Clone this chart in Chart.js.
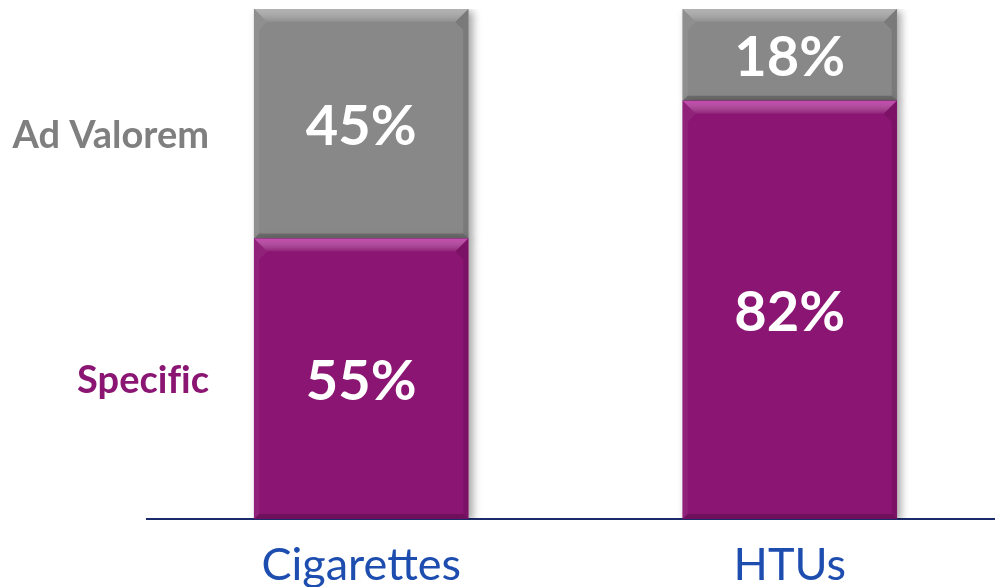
<!DOCTYPE html>
<html>
<head>
<meta charset="utf-8">
<script src="https://cdn.jsdelivr.net/npm/chart.js@4.4.0/dist/chart.umd.min.js"></script>
<style>
  html, body { margin: 0; padding: 0; background: #fff; overflow: hidden; }
  #wrap { width: 1004px; height: 587px; }
</style>
</head>
<body>
<div id="wrap"><canvas id="chart"></canvas></div>
<script>
const categories = ["Cigarettes", "HTUs"];
const seriesNames = ["Specif\u200Cic", "Ad Valorem"];
const specificValues = [55, 82];
const adValoremValues = [45, 18];

const purple = "#8a1572";
const grey = "#888888";

// bevel look on each bar segment
const bevelPlugin = {
    id: "bevel",
    beforeDatasetsDraw(chart) {
        const ctx = chart.ctx;
        ctx.save();
        ctx.shadowColor = "rgba(0,0,0,0.35)";
        ctx.shadowBlur = 8;
        ctx.shadowOffsetX = 4;
        ctx.shadowOffsetY = 2;
    },
    afterDatasetsDraw(chart) {
        const ctx = chart.ctx;
        ctx.restore();
        const lights = ["rgba(235,110,215,0.6)", "rgba(205,205,205,0.6)"];
        chart.data.datasets.forEach((ds, di) => {
            chart.getDatasetMeta(di).data.forEach(bar => {
                const l = bar.x - bar.width / 2, r = bar.x + bar.width / 2;
                const t = bar.y, btm = bar.base;
                const b = 13, s = 5;
                ctx.save();
                // top
                let g = ctx.createLinearGradient(0, t, 0, t + b);
                g.addColorStop(0, lights[di]);
                g.addColorStop(1, "rgba(255,255,255,0.05)");
                ctx.fillStyle = g;
                ctx.beginPath();
                ctx.moveTo(l, t); ctx.lineTo(r, t); ctx.lineTo(r - b, t + b); ctx.lineTo(l + b, t + b);
                ctx.closePath(); ctx.fill();
                // left
                ctx.fillStyle = "rgba(255,255,255,0.06)";
                ctx.beginPath();
                ctx.moveTo(l, t); ctx.lineTo(l + b, t + b); ctx.lineTo(l + s, t + b + 8); ctx.lineTo(l + s, btm - s); ctx.lineTo(l, btm);
                ctx.closePath(); ctx.fill();
                // right
                ctx.fillStyle = "rgba(0,0,0,0.1)";
                ctx.beginPath();
                ctx.moveTo(r, t); ctx.lineTo(r - b, t + b); ctx.lineTo(r - s, t + b + 8); ctx.lineTo(r - s, btm - s); ctx.lineTo(r, btm);
                ctx.closePath(); ctx.fill();
                // bottom
                ctx.fillStyle = "rgba(0,0,0,0.2)";
                ctx.beginPath();
                ctx.moveTo(l, btm); ctx.lineTo(r, btm); ctx.lineTo(r - s, btm - s); ctx.lineTo(l + s, btm - s);
                ctx.closePath(); ctx.fill();
                ctx.restore();
            });
        });
    }
};

// value labels inside the bars and series names on the left
const labelPlugin = {
    id: "labels",
    afterDraw(chart) {
        const ctx = chart.ctx;
        ctx.save();
        ctx.textAlign = "center";
        ctx.textBaseline = "middle";
        ctx.fillStyle = "#ffffff";
        ctx.font = "bold 56px Lato";
        chart.data.datasets.forEach((ds, di) => {
            chart.getDatasetMeta(di).data.forEach((bar, i) => {
                ctx.fillText(ds.data[i] + "%", bar.x, (bar.y + bar.base) / 2 + 3);
            });
        });
        // series names next to the first bar
        const meta0 = chart.getDatasetMeta(0).data[0];
        const meta1 = chart.getDatasetMeta(1).data[0];
        ctx.textAlign = "right";
        ctx.font = "bold 38px Lato";
        ctx.fillStyle = purple;
        ctx.fillText(seriesNames[0], 209, (meta0.y + meta0.base) / 2 + 2);
        ctx.fillStyle = "#7f7f7f";
        ctx.fillText(seriesNames[1], 209, (meta1.y + meta1.base) / 2 + 12);
        ctx.restore();
    }
};

new Chart(document.getElementById("chart"), {
    type: "bar",
    data: {
        labels: categories,
        datasets: [
            { label: seriesNames[0], data: specificValues, backgroundColor: purple, barThickness: 214 },
            { label: seriesNames[1], data: adValoremValues, backgroundColor: grey, barThickness: 214 }
        ]
    },
    options: {
        responsive: true,
        maintainAspectRatio: false,
        animation: false,
        layout: { padding: { left: 147, right: 0, top: 9, bottom: 0 } },
        plugins: { legend: { display: false }, tooltip: { enabled: false } },
        scales: {
            x: {
                stacked: true,
                grid: { display: false },
                border: { color: "#1b2a6b", width: 2 },
                ticks: { color: "#1e4db0", font: { family: "Lato", size: 45 }, padding: 11 },
                afterFit(scale) { scale.height = 68; }
            },
            y: {
                stacked: true,
                display: false,
                min: 0,
                max: 100
            }
        }
    },
    plugins: [bevelPlugin, labelPlugin]
});
</script>
</body>
</html>
